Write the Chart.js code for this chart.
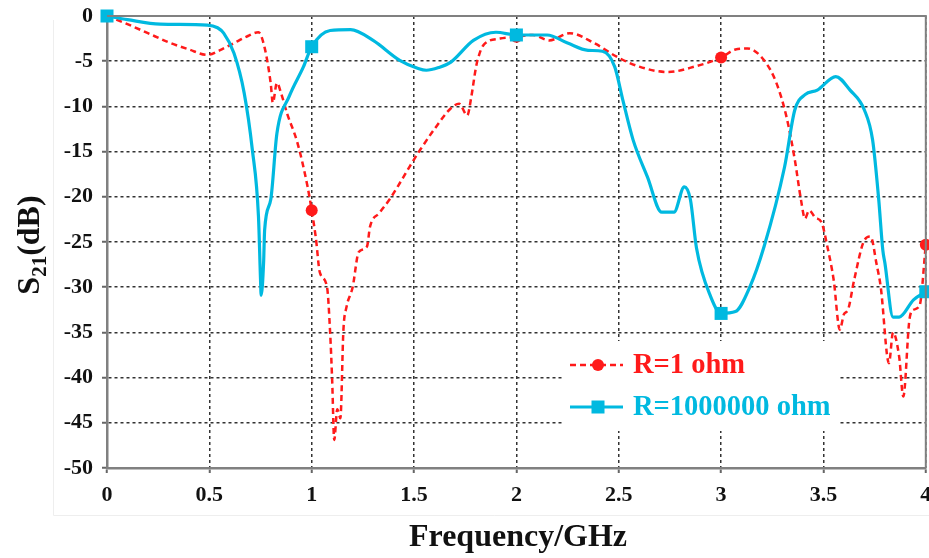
<!DOCTYPE html>
<html><head><meta charset="utf-8">
<script src="https://cdn.jsdelivr.net/npm/chart.js@4.4.0/dist/chart.umd.min.js"></script>
<style>html,body{margin:0;padding:0;background:#fff;overflow:hidden;}#wrap{width:929px;height:558px;position:relative;overflow:hidden;}canvas{display:block;}</style>
</head><body><div id="wrap"><canvas id="c" width="935" height="558"></canvas></div>
<script>
// ---- data ----
const seriesNames = ['R=1 ohm', 'R=1000000 ohm'];
const redFreq = [0,0.1,0.2,0.3,0.4,0.49,0.55,0.62,0.68,0.74,0.77,0.8,0.81,0.83,0.85,0.88,0.93,0.98,1.0,1.02,1.04,1.075,1.09,1.1,1.11,1.125,1.14,1.155,1.17,1.2,1.23,1.27,1.285,1.33,1.38,1.43,1.48,1.53,1.6,1.68,1.72,1.76,1.78,1.8,1.81,1.84,1.92,2.0,2.08,2.16,2.26,2.38,2.49,2.6,2.74,2.87,3.0,3.07,3.13,3.21,3.27,3.32,3.36,3.39,3.41,3.43,3.46,3.49,3.52,3.55,3.58,3.6,3.62,3.65,3.7,3.73,3.76,3.78,3.82,3.84,3.87,3.89,3.92,3.94,3.97,4.0];
const redS21 = [0,-0.9,-1.9,-2.9,-3.7,-4.3,-3.8,-3.0,-2.3,-1.8,-3.5,-7.5,-9.6,-7.4,-8.5,-10.8,-14.0,-18.9,-21.5,-24.5,-28.4,-30.0,-35,-40.3,-46.9,-43.5,-44.5,-34.7,-32.2,-30.0,-26.1,-25.5,-23.3,-21.8,-20.3,-18.5,-16.6,-14.8,-12.5,-10.2,-9.7,-11.0,-8.9,-6.0,-4.9,-3.2,-2.5,-2.3,-2.1,-2.7,-1.9,-3.0,-4.5,-5.6,-6.2,-5.6,-4.6,-3.7,-3.6,-4.9,-7.4,-11.2,-15.9,-20.3,-22.4,-21.5,-22.3,-22.8,-25.6,-29.2,-34.7,-33.0,-32.5,-29.2,-24.8,-24.4,-27.5,-30.0,-38.4,-35.0,-37.7,-42.1,-33.6,-32.5,-32.0,-25.3];
const blueFreq = [0,0.1,0.26,0.49,0.54,0.57,0.62,0.67,0.71,0.74,0.75,0.753,0.765,0.77,0.8,0.83,0.89,0.96,1.0,1.09,1.19,1.3,1.43,1.52,1.56,1.62,1.68,1.79,1.9,2.0,2.15,2.25,2.35,2.42,2.48,2.52,2.57,2.64,2.71,2.77,2.82,2.85,2.88,2.95,3.0,3.07,3.14,3.21,3.31,3.36,3.41,3.47,3.56,3.63,3.7,3.74,3.77,3.79,3.8,3.84,3.87,3.94,4.0];
const blueS21 = [0,-0.4,-0.9,-1.0,-1.3,-1.9,-4.1,-8.5,-14.8,-22.2,-29.2,-30.9,-27.3,-23.7,-20.3,-13.0,-8.9,-5.6,-3.4,-1.6,-1.5,-2.7,-4.9,-5.8,-6.0,-5.7,-5.1,-2.7,-1.8,-2.1,-2.1,-3.0,-3.8,-3.9,-5.6,-9.3,-13.7,-17.8,-21.7,-21.7,-18.9,-20.3,-25.7,-31.1,-32.9,-32.7,-30.0,-25.5,-16.7,-10.4,-8.7,-8.2,-6.7,-8.2,-10.4,-13.7,-20.3,-25.9,-27.3,-33.3,-33.3,-31.4,-30.5];
const markerFreq = [0, 1, 2, 3, 4];
const xTickValues = [0,0.5,1,1.5,2,2.5,3,3.5,4];
const xTickLabels = ['0','0.5','1','1.5','2','2.5','3','3.5','4'];
const yTickValues = [0,-5,-10,-15,-20,-25,-30,-35,-40,-45,-50];
const yTickLabels = ['0','-5','-10','-15','-20','-25','-30','-35','-40','-45','-50'];
const xTitle = 'Frequency/GHz';
const yTitleParts = ['S', '21', '(dB)'];

const RED = '#ff1a1a';
const CYAN = '#00b9e0';
const SERIF = '"Liberation Serif", "Times New Roman", serif';

const toXY = (xs, ys) => xs.map((x, i) => ({x: x, y: ys[i]}));
const markerRadius = r => ctx => (ctx.raw && markerFreq.includes(ctx.raw.x)) ? r : 0;

const decor = {
  id: 'decor',
  beforeDraw(chart) {
    const c = chart.ctx;
    c.save();
    c.strokeStyle = '#eeeeee'; c.lineWidth = 1;
    c.beginPath(); c.moveTo(53.5, 20); c.lineTo(53.5, 515.5); c.lineTo(935, 515.5); c.stroke();
    c.restore();
  },
  afterDraw(chart) {
    const c = chart.ctx, a = chart.chartArea;
    c.save();
    // top & right frame
    c.strokeStyle = '#808080'; c.lineWidth = 2;
    c.beginPath(); c.moveTo(a.left, a.top); c.lineTo(a.right, a.top); c.lineTo(a.right, a.bottom); c.stroke();
    // x title
    c.fillStyle = '#111';
    c.font = 'bold 32px ' + SERIF;
    c.textAlign = 'center'; c.textBaseline = 'middle';
    c.fillText(xTitle, 518, 538);
    // y title with subscript
    c.translate(28, 245);
    c.rotate(-Math.PI / 2);
    const fMain = 'bold 32px ' + SERIF, fSub = 'bold 21px ' + SERIF;
    c.font = fMain; const w1 = c.measureText(yTitleParts[0]).width, w3 = c.measureText(yTitleParts[2]).width;
    c.font = fSub; const w2 = c.measureText(yTitleParts[1]).width;
    let x0 = -(w1 + w2 + w3) / 2;
    c.textAlign = 'left'; c.textBaseline = 'alphabetic';
    c.font = fMain; c.fillText(yTitleParts[0], x0, 11);
    c.font = fSub; c.fillText(yTitleParts[1], x0 + w1, 18);
    c.font = fMain; c.fillText(yTitleParts[2], x0 + w1 + w2, 11);
    c.restore();

    // legend inside plot
    c.save();
    c.fillStyle = '#ffffff';
    c.fillRect(563, 341, 276, 90);
    const rows = [
      {name: seriesNames[0], color: RED, y: 365, dash: [6, 4], lw: 2.5, shape: 'circle'},
      {name: seriesNames[1], color: CYAN, y: 407, dash: [], lw: 3, shape: 'rect'}
    ];
    rows.forEach(r => {
      c.strokeStyle = r.color; c.lineWidth = r.lw; c.setLineDash(r.dash);
      c.beginPath(); c.moveTo(570, r.y); c.lineTo(623, r.y); c.stroke();
      c.setLineDash([]);
      c.fillStyle = r.color;
      if (r.shape === 'circle') { c.beginPath(); c.arc(598, r.y, 6, 0, Math.PI * 2); c.fill(); }
      else { c.fillRect(591.5, r.y - 6.5, 13, 13); }
      c.font = 'bold 28.5px ' + SERIF;
      c.textAlign = 'left'; c.textBaseline = 'middle';
      c.fillText(r.name, 633, r.y + 1);
    });
    c.restore();
  }
};

const tickFont = {family: SERIF, weight: 'bold', size: 22};

new Chart(document.getElementById('c'), {
  type: 'line',
  data: {
    datasets: [
      {
        label: seriesNames[0], data: toXY(redFreq, redS21),
        borderColor: RED, backgroundColor: RED, borderWidth: 2.5, borderDash: [6, 4],
        pointStyle: 'circle', pointRadius: markerRadius(6), pointHoverRadius: 0,
        pointBorderWidth: 0, cubicInterpolationMode: 'monotone', clip: false, order: 2
      },
      {
        label: seriesNames[1], data: toXY(blueFreq, blueS21),
        borderColor: CYAN, backgroundColor: CYAN, borderWidth: 3.2,
        pointStyle: 'rect', pointRadius: markerRadius(9.2), pointHoverRadius: 0,
        pointBorderWidth: 0, cubicInterpolationMode: 'monotone', clip: false, order: 1
      }
    ]
  },
  options: {
    responsive: false, animation: false, devicePixelRatio: 1,
    layout: {padding: {top: 16, right: 0, left: 0, bottom: 0}},
    plugins: {legend: {display: false}, tooltip: {enabled: false}},
    scales: {
      x: {
        type: 'linear', min: 0, max: 4,
        afterBuildTicks: s => { s.ticks = xTickValues.map(v => ({value: v})); },
        afterFit: s => { s.height = 90; s.paddingLeft = 0; s.paddingRight = 0; },
        ticks: {
          callback: v => xTickLabels[xTickValues.indexOf(v)],
          font: tickFont, color: '#111', padding: 9, maxRotation: 0, autoSkip: false
        },
        grid: {color: '#333', lineWidth: 1.5, tickLength: 5, tickColor: '#666', tickWidth: 2},
        border: {display: true, color: '#808080', width: 2.5, dash: [3, 3]}
      },
      y: {
        type: 'linear', min: -50, max: 0,
        afterBuildTicks: s => { s.ticks = yTickValues.map(v => ({value: v})); },
        afterFit: s => { s.width = 107; s.paddingTop = 0; s.paddingBottom = 0; },
        ticks: {
          callback: v => yTickLabels[yTickValues.indexOf(v)],
          font: tickFont, color: '#111', padding: 9, autoSkip: false
        },
        grid: {color: '#333', lineWidth: 1.5, tickLength: 5, tickColor: '#666', tickWidth: 2},
        border: {display: true, color: '#808080', width: 2.5, dash: [3, 3]}
      }
    }
  },
  plugins: [decor]
});
</script>
</body></html>
